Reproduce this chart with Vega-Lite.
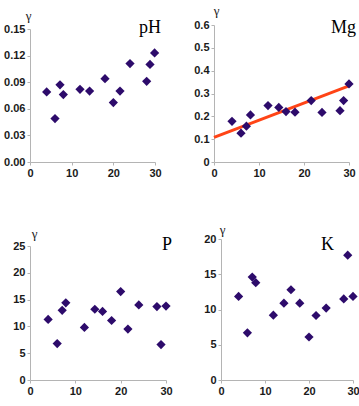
{
  "$schema": "https://vega.github.io/schema/vega-lite/v6.json",
  "padding": {"left": 3, "top": 4, "right": 0, "bottom": 0},
  "background": "white",
  "spacing": 45,
  "datasets": {
    "ph": [
      {"x": 4.0, "y": 0.079}, {"x": 6.0, "y": 0.049}, {"x": 7.2, "y": 0.087}, {"x": 8.0, "y": 0.076},
      {"x": 12.0, "y": 0.082}, {"x": 14.3, "y": 0.080}, {"x": 18.0, "y": 0.094}, {"x": 20.0, "y": 0.067},
      {"x": 21.6, "y": 0.080}, {"x": 24.0, "y": 0.111}, {"x": 28.0, "y": 0.091}, {"x": 28.8, "y": 0.110},
      {"x": 29.9, "y": 0.123}
    ],
    "mg": [
      {"x": 4.0, "y": 0.178}, {"x": 6.0, "y": 0.126}, {"x": 7.2, "y": 0.157}, {"x": 8.1, "y": 0.206},
      {"x": 12.0, "y": 0.247}, {"x": 14.4, "y": 0.239}, {"x": 16.0, "y": 0.221}, {"x": 18.0, "y": 0.218},
      {"x": 21.6, "y": 0.269}, {"x": 24.0, "y": 0.217}, {"x": 28.0, "y": 0.225}, {"x": 28.8, "y": 0.269},
      {"x": 30.0, "y": 0.342}
    ],
    "mgfit": [
      {"x": 0, "y": 0.108}, {"x": 30, "y": 0.333}
    ],
    "p": [
      {"x": 4.0, "y": 11.3}, {"x": 6.0, "y": 6.8}, {"x": 7.1, "y": 13.0}, {"x": 7.9, "y": 14.4},
      {"x": 12.0, "y": 9.8}, {"x": 14.3, "y": 13.2}, {"x": 16.0, "y": 12.8}, {"x": 18.0, "y": 11.1},
      {"x": 20.0, "y": 16.5}, {"x": 21.6, "y": 9.5}, {"x": 24.0, "y": 14.0}, {"x": 28.0, "y": 13.7},
      {"x": 28.9, "y": 6.6}, {"x": 30.0, "y": 13.8}
    ],
    "k": [
      {"x": 4.0, "y": 11.85}, {"x": 6.0, "y": 6.7}, {"x": 7.1, "y": 14.6}, {"x": 7.9, "y": 13.8},
      {"x": 11.9, "y": 9.2}, {"x": 14.3, "y": 10.9}, {"x": 15.9, "y": 12.8}, {"x": 17.9, "y": 10.9},
      {"x": 20.0, "y": 6.1}, {"x": 21.6, "y": 9.15}, {"x": 23.9, "y": 10.2}, {"x": 27.9, "y": 11.5},
      {"x": 28.8, "y": 17.7}, {"x": 30.0, "y": 11.85}
    ]
  },
  "vconcat": [
    {
      "spacing": 31,
      "hconcat": [
        {
          "width": 125, "height": 137,
          "layer": [
            {
              "data": {"name": "ph"},
              "mark": {"type": "point", "shape": "diamond", "filled": true, "size": 85, "color": "#2d0b6b", "opacity": 1},
              "encoding": {
                "x": {"field": "x", "type": "quantitative", "scale": {"domain": [0, 30], "nice": false},
                      "axis": {"values": [0, 10, 20, 30], "tickCount": 20, "title": null, "labelOverlap": false}},
                "y": {"field": "y", "type": "quantitative", "scale": {"domain": [0, 0.15], "nice": false, "range": [137, 4]},
                      "axis": {"values": [0, 0.03, 0.06, 0.09, 0.12, 0.15], "tickCount": 20, "format": ".2f", "title": "γ", "labelOverlap": false,
                               "titleX": -2, "titleY": -10}}
              }
            },
            {
              "data": {"values": [{"label": "pH", "x": 30, "y": 0.15}]},
              "mark": {"type": "text", "align": "right", "baseline": "alphabetic", "font": "Liberation Serif", "fontSize": 18, "color": "#000", "dx": 6, "dy": 4},
              "encoding": {"x": {"field": "x", "type": "quantitative"}, "y": {"field": "y", "type": "quantitative"}, "text": {"field": "label"}}
            }
          ]
        },
        {
          "width": 135, "height": 137,
          "layer": [
            {
              "data": {"name": "mgfit"},
              "mark": {"type": "line", "color": "#ff4416", "strokeWidth": 3},
              "encoding": {
                "x": {"field": "x", "type": "quantitative", "scale": {"domain": [0, 30], "nice": false},
                      "axis": {"values": [0, 10, 20, 30], "tickCount": 20, "title": null, "labelOverlap": false}},
                "y": {"field": "y", "type": "quantitative", "scale": {"domain": [0, 0.6], "nice": false},
                      "axis": {"values": [0, 0.1, 0.2, 0.3, 0.4, 0.5, 0.6], "tickCount": 20, "labelExpr": "datum.value == 0 ? '0' : format(datum.value, '.1f')", "title": "γ", "labelOverlap": false,
                               "titleX": 2, "titleY": -15}}
              }
            },
            {
              "data": {"name": "mg"},
              "mark": {"type": "point", "shape": "diamond", "filled": true, "size": 85, "color": "#2d0b6b", "opacity": 1},
              "encoding": {
                "x": {"field": "x", "type": "quantitative"},
                "y": {"field": "y", "type": "quantitative"}
              }
            },
            {
              "data": {"values": [{"label": "Mg", "x": 30, "y": 0.6}]},
              "mark": {"type": "text", "align": "right", "baseline": "alphabetic", "font": "Liberation Serif", "fontSize": 18, "color": "#000", "dx": 7, "dy": 8},
              "encoding": {"x": {"field": "x", "type": "quantitative"}, "y": {"field": "y", "type": "quantitative"}, "text": {"field": "label"}}
            }
          ]
        }
      ]
    },
    {
      "spacing": 30,
      "hconcat": [
        {
          "width": 136, "height": 141,
          "layer": [
            {
              "data": {"name": "p"},
              "mark": {"type": "point", "shape": "diamond", "filled": true, "size": 85, "color": "#2d0b6b", "opacity": 1},
              "encoding": {
                "x": {"field": "x", "type": "quantitative", "scale": {"domain": [0, 30], "nice": false},
                      "axis": {"values": [0, 10, 20, 30], "tickCount": 20, "title": null, "labelOverlap": false}},
                "y": {"field": "y", "type": "quantitative", "scale": {"domain": [0, 25], "nice": false, "range": [141, 7]},
                      "axis": {"values": [0, 5, 10, 15, 20, 25], "tickCount": 20, "title": "γ", "labelOverlap": false,
                               "titleX": 4, "titleY": -6}}
              }
            },
            {
              "data": {"values": [{"label": "P", "x": 30, "y": 25}]},
              "mark": {"type": "text", "align": "right", "baseline": "alphabetic", "font": "Liberation Serif", "fontSize": 18, "color": "#000", "dx": 6, "dy": 4},
              "encoding": {"x": {"field": "x", "type": "quantitative"}, "y": {"field": "y", "type": "quantitative"}, "text": {"field": "label"}}
            }
          ]
        },
        {
          "width": 132, "height": 141,
          "layer": [
            {
              "data": {"name": "k"},
              "mark": {"type": "point", "shape": "diamond", "filled": true, "size": 85, "color": "#2d0b6b", "opacity": 1},
              "encoding": {
                "x": {"field": "x", "type": "quantitative", "scale": {"domain": [0, 30], "nice": false},
                      "axis": {"values": [0, 10, 20, 30], "tickCount": 20, "title": null, "labelOverlap": false}},
                "y": {"field": "y", "type": "quantitative", "scale": {"domain": [0, 20], "nice": false},
                      "axis": {"values": [0, 5, 10, 15, 20], "tickCount": 20, "title": "γ", "labelOverlap": false,
                               "titleX": 1, "titleY": -10}}
              }
            },
            {
              "data": {"values": [{"label": "K", "x": 30, "y": 20}]},
              "mark": {"type": "text", "align": "right", "baseline": "alphabetic", "font": "Liberation Serif", "fontSize": 18, "color": "#000", "dx": -19, "dy": 11},
              "encoding": {"x": {"field": "x", "type": "quantitative"}, "y": {"field": "y", "type": "quantitative"}, "text": {"field": "label"}}
            }
          ]
        }
      ]
    }
  ],
  "config": {
    "view": {"stroke": null},
    "axis": {
      "grid": false,
      "domainColor": "#b4b4b4",
      "tickColor": "#b4b4b4",
      "tickSize": 3,
      "labelFont": "Liberation Sans",
      "labelFontSize": 11,
      "labelFontWeight": "bold",
      "labelColor": "#1a1a1a",
      "labelPadding": 2,
      "labelFlush": false,
      "labelOverlap": false,
      "titleFont": "Liberation Serif",
      "titleFontSize": 13,
      "titleFontWeight": "normal",
      "titleColor": "#222",
      "titleAngle": 0,
      "titleAlign": "center",
      "titleBaseline": "middle"
    }
  }
}
